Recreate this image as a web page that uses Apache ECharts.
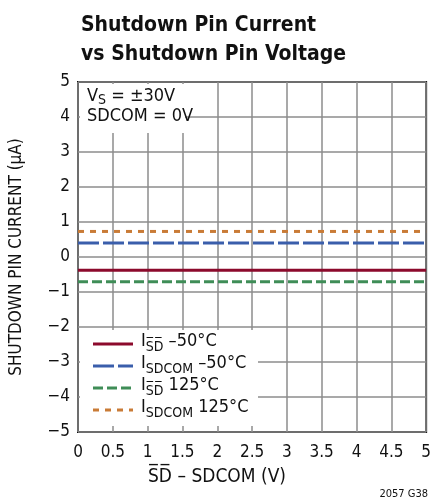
<!DOCTYPE html>
<html><head><meta charset="utf-8">
<script src="https://cdn.jsdelivr.net/npm/echarts@6/dist/echarts.min.js"></script>
<style>html,body{margin:0;padding:0;background:#fff}#c{width:434px;height:502px}</style>
</head><body><div id="c"></div>
<script>
const FONT = '"Liberation Sans Narrow","DejaVu Sans Condensed","Roboto","Liberation Sans",sans-serif';
const xVals = [0, 5];
const iSdM50 = [-0.38, -0.38];
const iSdcomM50 = [0.40, 0.40];
const iSd125 = [-0.71, -0.71];
const iSdcom125 = [0.73, 0.73];
const xTicks = [0, 0.5, 1, 1.5, 2, 2.5, 3, 3.5, 4, 4.5, 5];
const yTicks = [-5, -4, -3, -2, -1, 0, 1, 2, 3, 4, 5];
const seriesNames = ['ISD –50°C', 'ISDCOM –50°C', 'ISD 125°C', 'ISDCOM 125°C'];
const colors = ['#8c0a2c', '#3a5eab', '#3f8d57', '#c97b36'];

const chart = echarts.init(document.getElementById('c'));
const pts = a => xVals.map((x, i) => [x, a[i]]);
const minusFmt = v => String(v).replace('-', '\u2212');

function legendItem(i, y, dash, sub, rest) {
  return [
    {type:'line', z:101, shape:{x1:93,y1:y,x2:133,y2:y},
     style:{stroke:colors[i], lineWidth:3, lineDash:dash}},
    {type:'text', z:101, left:141, top:y-12, style:{
      text:'{m|I}{s|' + sub + '}{m|' + rest + '}',
      rich:{m:{fontSize:18,fontFamily:FONT,fill:'#111',lineHeight:24,verticalAlign:'top'},
            s:{fontSize:14,fontFamily:FONT,fill:'#111',lineHeight:16,padding:[8,0,0,0],verticalAlign:'top'}}
    }}
  ];
}

chart.setOption({
  animation:false,
  title:{text:'Shutdown Pin Current\nvs Shutdown Pin Voltage', left:76, top:6,
    textStyle:{fontSize:21, fontWeight:'bold', fontFamily:FONT, color:'#111', lineHeight:29}},
  grid:{left:78, right:5, top:82, bottom:70, show:true, borderColor:'#111', borderWidth:2, backgroundColor:'#fff'},
  xAxis:{type:'value', min:0, max:5, interval:0.5,
    axisLine:{show:false}, axisTick:{show:false},
    axisLabel:{fontSize:17, fontFamily:FONT, color:'#111', margin:12,
      formatter:v => xTicks.includes(v) ? String(v) : ''},
    splitLine:{lineStyle:{color:'#8c8c8c', width:1.5}}},
  yAxis:{type:'value', min:-5, max:5, interval:1,
    name:'SHUTDOWN PIN CURRENT (μA)', nameLocation:'middle', nameGap:53,
    nameTextStyle:{fontSize:17, fontFamily:FONT, color:'#111'},
    axisLine:{show:false}, axisTick:{show:false},
    axisLabel:{fontSize:17, fontFamily:FONT, color:'#111', margin:8,
      formatter:v => yTicks.includes(v) ? minusFmt(v) : ''},
    splitLine:{lineStyle:{color:'#8c8c8c', width:1.5}}},
  series:[
    {name:seriesNames[0], type:'line', data:pts(iSdM50), symbol:'none', z:5, lineStyle:{color:colors[0], width:3}},
    {name:seriesNames[1], type:'line', data:pts(iSdcomM50), symbol:'none', z:5, lineStyle:{color:colors[1], width:3, type:[21,4]}},
    {name:seriesNames[2], type:'line', data:pts(iSd125), symbol:'none', z:5, lineStyle:{color:colors[2], width:3, type:[10,4]}},
    {name:seriesNames[3], type:'line', data:pts(iSdcom125), symbol:'none', z:5, lineStyle:{color:colors[3], width:3, type:[6,6]}}
  ],
  graphic:[
    {type:'rect', z:100, shape:{x:80, y:84, width:105, height:49}, style:{fill:'#fff'}},
    {type:'text', z:101, left:87, top:87, style:{
      text:'{m|V}{s|S}{m| = ±30V}\n{m|SDCOM = 0V}',
      rich:{m:{fontSize:18,fontFamily:FONT,fill:'#111',lineHeight:20,verticalAlign:'top'},
            s:{fontSize:14,fontFamily:FONT,fill:'#111',lineHeight:14,padding:[6,0,0,0],verticalAlign:'top'}}}},
    {type:'rect', z:100, shape:{x:80, y:330, width:178, height:96}, style:{fill:'#fff'}},
    ...legendItem(0, 344, null, 'S\u0305D\u0305', ' –50°C'),
    ...legendItem(1, 366, [21,4], 'SDCOM', ' –50°C'),
    ...legendItem(2, 388, [10,4], 'S\u0305D\u0305', ' 125°C'),
    ...legendItem(3, 410, [6,6], 'SDCOM', ' 125°C'),
    {type:'text', z:101, left:'center', top:468, style:{x:0,
      text:'S\u0305D\u0305 – SDCOM (V)', fontSize:19, fontFamily:FONT, fill:'#111'}},
    {type:'text', z:101, right:6, top:489, style:{text:'2057 G38', fontSize:11, fontFamily:FONT, fill:'#111'}}
  ]
});
</script></body></html>
